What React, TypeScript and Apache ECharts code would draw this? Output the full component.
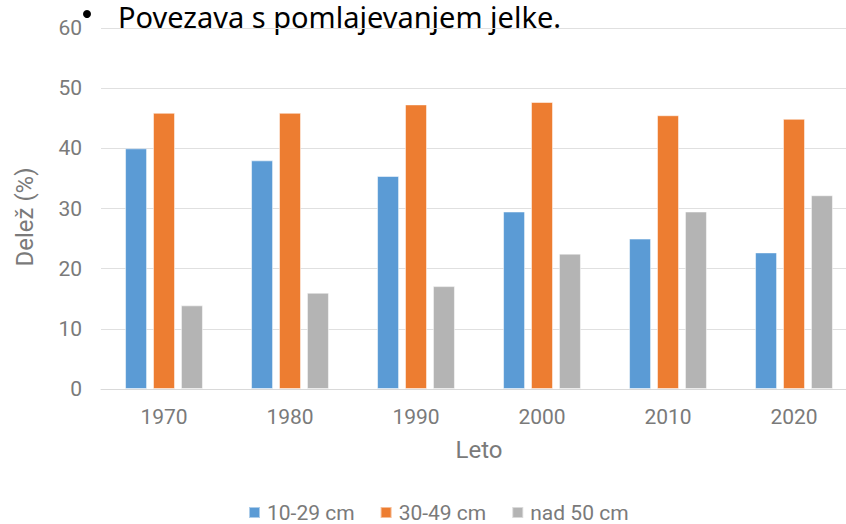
import React, { useEffect, useRef } from "react";
import * as echarts from "echarts";

const years = ["1970", "1980", "1990", "2000", "2010", "2020"];
const small = [40, 38, 35.4, 29.5, 25.0, 22.7];
const medium = [45.9, 45.9, 47.3, 47.7, 45.5, 44.9];
const large = [13.9, 16.0, 17.1, 22.5, 29.5, 32.2];
const seriesNames = ["10-29 cm", "30-49 cm", "nad 50 cm"];
const yTicks = { min: 0, max: 60, interval: 10 };

export default function App() {
  const ref = useRef<HTMLDivElement>(null);
  useEffect(() => {
    if (!ref.current) return;
    const chart = echarts.init(ref.current, null, { renderer: "svg" });
    const labelColor = "#7a7a7a";
    const font = "Roboto, 'Liberation Sans', Arial, sans-serif";
    chart.setOption({
      animation: false,
      backgroundColor: "#ffffff",
      color: ["#5b9bd5", "#ed7d31", "#b4b4b4"],
      grid: {
        left: 101,
        top: 28,
        width: 756,
        height: 361,
        containLabel: false,
        outerBoundsMode: "none",
      },
      xAxis: {
        type: "category",
        data: years,
        axisTick: { show: false },
        axisLine: { lineStyle: { color: "#d9d9d9", width: 1 } },
        axisLabel: { color: labelColor, fontSize: 21, fontFamily: font, margin: 17 },
        name: "Leto",
        nameLocation: "middle",
        nameGap: 61,
        nameTextStyle: { color: labelColor, fontSize: 24, fontFamily: font, verticalAlign: "middle" },
      },
      yAxis: {
        type: "value",
        min: yTicks.min,
        max: yTicks.max,
        interval: yTicks.interval,
        axisLine: { show: false },
        axisTick: { show: false },
        splitLine: { lineStyle: { color: "#e0e0e0", width: 1 } },
        axisLabel: { color: labelColor, fontSize: 21, fontFamily: font, margin: 19 },
      },
      legend: {
        left: 248,
        top: 502,
        padding: 0,
        itemWidth: 11,
        itemHeight: 11,
        itemGap: 25,
        icon: "rect",
        textStyle: { color: labelColor, fontSize: 21, fontFamily: font, padding: [0, 0, 0, 2] },
        data: seriesNames,
      },
      series: [
        { name: seriesNames[0], type: "bar", data: small, barWidth: 22, barGap: "27%" },
        { name: seriesNames[1], type: "bar", data: medium, barWidth: 22, barGap: "27%" },
        { name: seriesNames[2], type: "bar", data: large, barWidth: 22, barGap: "27%" },
      ].map((s) => ({ ...s, itemStyle: { borderColor: "rgba(255,255,255,0.5)", borderWidth: 1 } })),
      graphic: [
        {
          type: "text",
          rotation: Math.PI / 2,
          x: 25,
          y: 217,
          style: {
            text: "Delež (%)",
            fill: labelColor,
            font: `24px ${font}`,
            align: "center",
            verticalAlign: "middle",
          },
        },
        {
          type: "circle",
          shape: { cx: 87, cy: 14, r: 4 },
          style: { fill: "#000" },
        },
        {
          type: "text",
          x: 118,
          y: 16,
          style: {
            text: "Povezava s pomlajevanjem jelke.",
            fill: "#000",
            font: `29px 'Noto Sans', Lato, sans-serif`,
            verticalAlign: "middle",
          },
        },
      ],
    });
    return () => chart.dispose();
  }, []);
  return (
    <div
      ref={ref}
      style={{ position: "absolute", left: 0, top: 0, width: 846, height: 524 }}
    />
  );
}
